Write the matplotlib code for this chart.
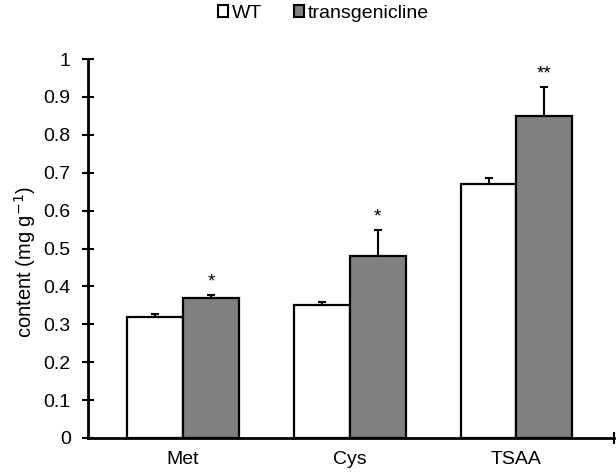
import matplotlib
matplotlib.use("Agg")
import matplotlib.pyplot as plt
from matplotlib.patches import Patch
import numpy as np

plt.rcParams['font.family'] = ['Liberation Sans', 'DejaVu Sans']

categories = ["Met", "Cys", "TSAA"]
wt_values = [0.32, 0.35, 0.67]
wt_errors = [0.008, 0.008, 0.015]
tg_values = [0.37, 0.48, 0.85]
tg_errors = [0.007, 0.07, 0.075]
tg_signif = ["*", "*", "**"]
series_names = ["WT", "transgenicline"]
yticks = [0, 0.1, 0.2, 0.3, 0.4, 0.5, 0.6, 0.7, 0.8, 0.9, 1]
ytick_labels = ["0", "0.1", "0.2", "0.3", "0.4", "0.5", "0.6", "0.7", "0.8", "0.9", "1"]

fig = plt.figure(figsize=(6.16, 4.72), dpi=100)
ax = fig.add_axes([88/616, 1-438/472, (614-88)/616, (438-59)/472])

x = np.arange(len(categories))
w = 0.335
ekw = dict(ecolor='black', elinewidth=1.5, capthick=1.5, capsize=2.8)
ax.bar(x - w/2, wt_values, w, color='white', edgecolor='black', linewidth=1.6,
       yerr=[np.zeros(3), wt_errors], error_kw=ekw, zorder=3)
ax.bar(x + w/2, tg_values, w, color='#808080', edgecolor='black', linewidth=1.6,
       yerr=[np.zeros(3), tg_errors], error_kw=ekw, zorder=3)

for xi, v, e, s in zip(x, tg_values, tg_errors, tg_signif):
    ax.text(xi + w/2, v + e + 0.012, s, ha='center', va='bottom', fontsize=13.5)

ax.set_xlim(-0.57, 2.585)
ax.set_ylim(0, 1)
ax.set_yticks(yticks)
ax.set_yticklabels(ytick_labels, fontsize=14)
ax.set_xticks(x)
ax.set_xticklabels(categories, fontsize=14)
ax.tick_params(axis='x', length=0, pad=9)
ax.tick_params(axis='y', direction='inout', length=9, width=1.5, pad=8)
ax.set_xticks([2.585], minor=True)
ax.tick_params(axis='x', which='minor', direction='inout', length=9, width=1.5)
for sp in ['top', 'right']:
    ax.spines[sp].set_visible(False)
for sp in ['left', 'bottom']:
    ax.spines[sp].set_linewidth(2)
ax.spines['bottom'].set_zorder(4)
fig.text(25/616, 1-262/472, "content (mg g$^{-1}$)", fontsize=14.5,
         rotation=90, ha='center', va='center')

handles = [Patch(facecolor='white', edgecolor='black', linewidth=1.5),
           Patch(facecolor='#808080', edgecolor='black', linewidth=1.5)]
fig.legend(handles, series_names, loc='center', bbox_to_anchor=(0.525, 0.972),
           ncol=2, frameon=False, fontsize=14, handlelength=0.55, handleheight=0.55,
           handletextpad=0.2, columnspacing=1.6)

fig.savefig("out.png", dpi=100)
